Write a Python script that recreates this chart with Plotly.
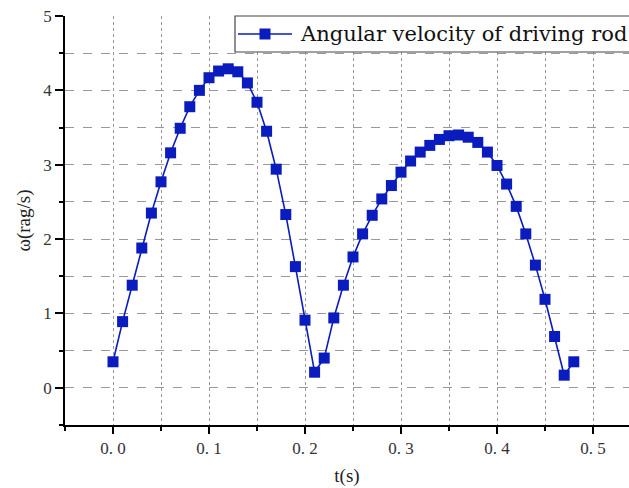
import plotly.graph_objects as go

t = [round(i * 0.01, 2) for i in range(49)]
omega = [0.35, 0.89, 1.38, 1.88, 2.35, 2.77, 3.16, 3.49, 3.78, 4.00,
         4.17, 4.26, 4.29, 4.25, 4.10, 3.84, 3.45, 2.94, 2.33, 1.63,
         0.91, 0.21, 0.40, 0.94, 1.38, 1.76, 2.07, 2.32, 2.54, 2.72,
         2.90, 3.05, 3.17, 3.26, 3.34, 3.39, 3.40, 3.37, 3.30, 3.17,
         2.99, 2.74, 2.44, 2.07, 1.65, 1.19, 0.69, 0.17, 0.35]
x_ticks = [0.0, 0.1, 0.2, 0.3, 0.4, 0.5]
x_ticktext = ["0. 0", "0. 1", "0. 2", "0. 3", "0. 4", "0. 5"]
y_ticks = [0, 1, 2, 3, 4, 5]
series_name = "Angular velocity of driving rod"

blue = "#0a1cbd"
serif = "Liberation Serif, DejaVu Serif, serif"
legend_font = "DejaVu Serif, serif"

W, H = 629, 488
ML, MR, MT, MB = 65, 0, 16, 63
PW, PH = W - ML - MR, H - MT - MB


def px_x(px):
    return (px - ML) / PW


def px_y(py):
    return (H - MB - py) / PH


fig = go.Figure()
fig.add_trace(go.Scatter(
    x=t, y=omega, mode="lines+markers", name=series_name,
    line=dict(color=blue, width=1.6),
    marker=dict(symbol="square", size=11, color=blue),
    showlegend=False,
))

# Legend box (drawn manually so it can run off the right edge like the original)
leg_y = px_y(34)
fig.add_shape(type="rect", xref="paper", yref="paper",
              x0=px_x(235), x1=px_x(660), y0=px_y(52), y1=px_y(16),
              line=dict(color="#444444", width=1.2), fillcolor="white", layer="above")
fig.add_shape(type="line", xref="paper", yref="paper",
              x0=px_x(238), x1=px_x(292), y0=leg_y, y1=leg_y,
              line=dict(color=blue, width=1.6), layer="above")
fig.add_shape(type="rect", xref="paper", yref="paper",
              xsizemode="pixel", ysizemode="pixel",
              xanchor=px_x(265), yanchor=leg_y,
              x0=-5.5, x1=5.5, y0=-5.5, y1=5.5,
              line=dict(width=0), fillcolor=blue, layer="above")
fig.add_annotation(xref="paper", yref="paper", x=px_x(298), y=leg_y,
                   xanchor="left", yanchor="middle", showarrow=False,
                   text=series_name,
                   font=dict(family=legend_font, size=21, color="#111111"))

fig.update_layout(
    width=W, height=H,
    margin=dict(l=ML, r=MR, t=MT, b=MB, autoexpand=False),
    paper_bgcolor="white", plot_bgcolor="white",
    font=dict(family=serif, color="#333333"),
    showlegend=False,
    xaxis=dict(
        range=[-0.05, 0.5375], tickvals=x_ticks, ticktext=x_ticktext,
        showline=True, linecolor="black", linewidth=1.5,
        ticks="outside", ticklen=7, tickwidth=1.5, tickcolor="black",
        tickfont=dict(size=17, family=serif, color="#333333"),
        showgrid=True, gridcolor="#999999", griddash="dot", gridwidth=1,
        minor=dict(dtick=0.05, tick0=0, ticks="outside", ticklen=4, tickwidth=1.5,
                   tickcolor="black", showgrid=True, gridcolor="#999999",
                   griddash="dot", gridwidth=1),
        zeroline=False,
        title=dict(text="t(s)", font=dict(size=19, family=serif, color="#222222"), standoff=12),
    ),
    yaxis=dict(
        range=[-0.5, 5.0], tickvals=y_ticks,
        showline=True, linecolor="black", linewidth=1.5,
        ticks="outside", ticklen=8, tickwidth=1.5, tickcolor="black",
        tickfont=dict(size=17, family=serif, color="#333333"),
        showgrid=True, gridcolor="#999999", griddash="dash", gridwidth=1,
        minor=dict(dtick=0.5, tick0=0, ticks="outside", ticklen=4, tickwidth=1.5,
                   tickcolor="black", showgrid=True, gridcolor="#999999",
                   griddash="dash", gridwidth=1),
        zeroline=False,
        title=dict(text="ω(rag/s)", font=dict(size=19, family=serif, color="#222222"), standoff=8),
    ),
)

fig.write_html("out.html")
